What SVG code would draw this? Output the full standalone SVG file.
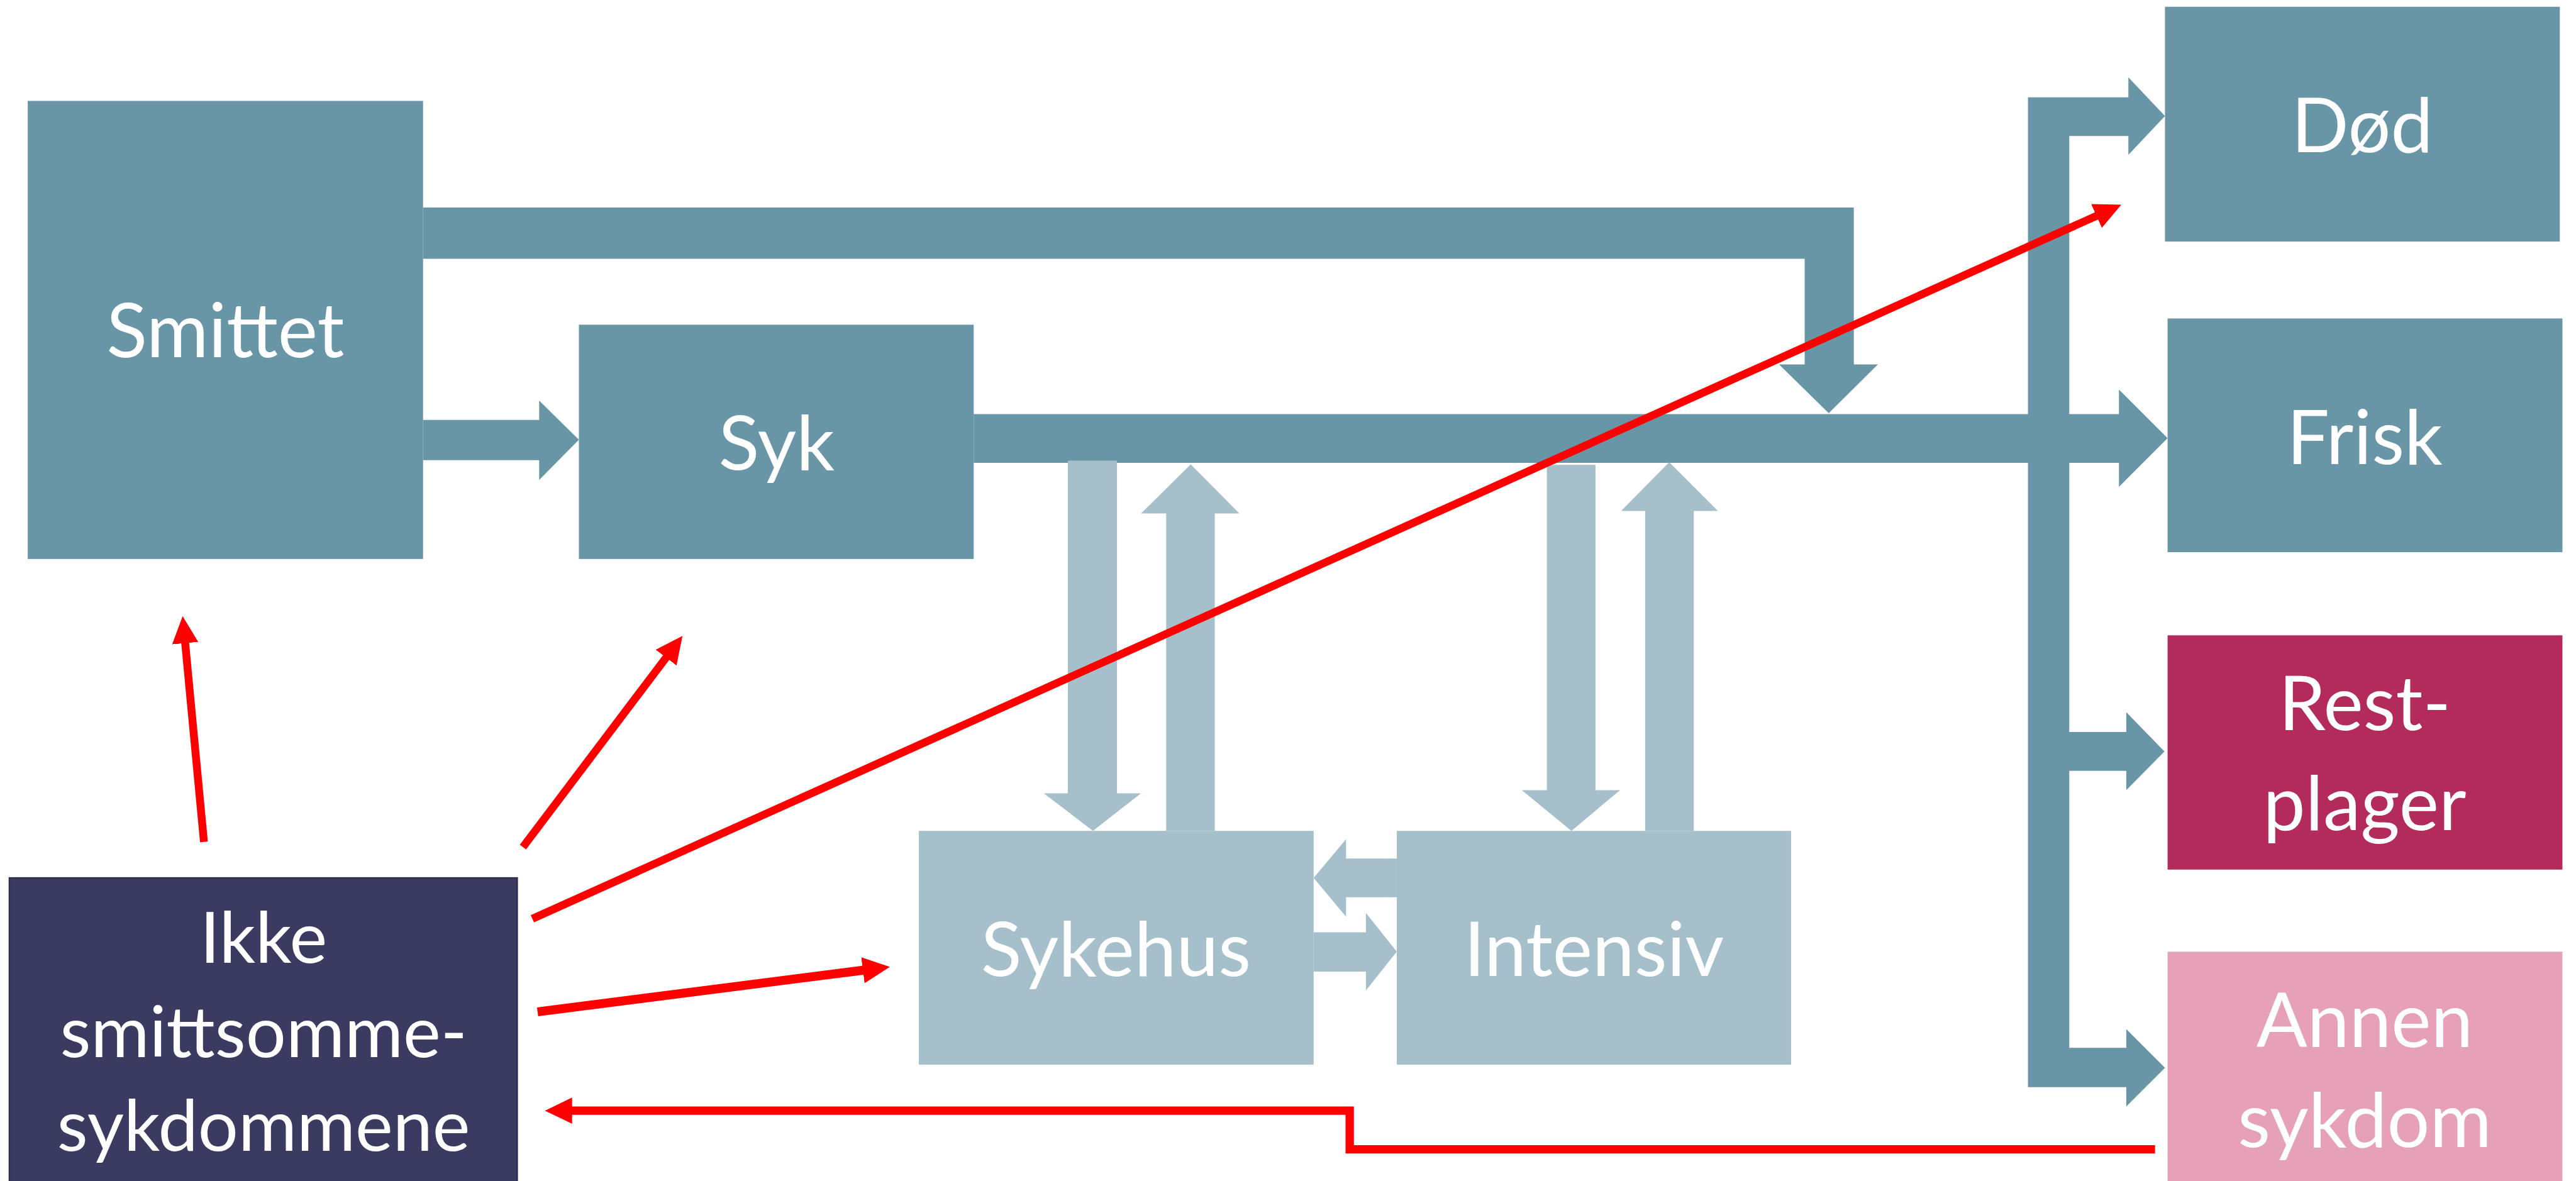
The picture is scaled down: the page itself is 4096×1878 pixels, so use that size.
<svg xmlns="http://www.w3.org/2000/svg" width="4096" height="1878" viewBox="0 0 4096 1878">
  <style>
    .teal { fill: #6896A6; }
    .light { fill: #A5C0CB; }
    .rest { fill: #B32B5A; }
    .annen { fill: #E6A1B8; }
    .navy { fill: #3B3B61; stroke: #2E2E4E; stroke-width: 3; }
    .label { font-family: "Lato", "Liberation Sans", sans-serif; font-weight: 400; font-size: 144px; fill: #FFFFFF; text-anchor: middle; }
    .small { font-size: 136px; }
    .flow { fill: none; stroke: #FF0000; stroke-width: 15; marker-end: url(#redHead); }
  </style>
  <defs>
    <marker id="redHead" markerUnits="userSpaceOnUse" markerWidth="52" markerHeight="50" viewBox="0 0 52 50" refX="12" refY="25" orient="auto">
      <path d="M0,0 L52,25 L0,50 Z" fill="#FF0000"/>
    </marker>
  </defs>
  <rect width="4096" height="1878" fill="#FFFFFF"/>
  <g transform="scale(0.83151)">
    <!-- boxes -->
    <g id="smittet">
      <rect class="teal" x="53" y="193" width="756" height="876"/>
      <text class="label" x="431" y="683">Smittet</text>
    </g>
    <g id="syk">
      <rect class="teal" x="1107" y="621" width="755" height="448"/>
      <text class="label" x="1485" y="898">Syk</text>
    </g>
    <g id="dod">
      <rect class="teal" x="4140" y="13" width="755" height="449"/>
      <text class="label" x="4517" y="291">Død</text>
    </g>
    <g id="frisk">
      <rect class="teal" x="4145" y="609" width="755" height="447"/>
      <text class="label" x="4522" y="887">Frisk</text>
    </g>
    <g id="restplager">
      <rect class="rest" x="4145" y="1215" width="755" height="448"/>
      <text class="label" x="4522" y="1396">Rest-</text>
      <text class="label" x="4522" y="1588">plager</text>
    </g>
    <g id="annen-sykdom">
      <rect class="annen" x="4145" y="1820" width="755" height="439"/>
      <text class="label" x="4522" y="2002">Annen</text>
      <text class="label" x="4522" y="2193">sykdom</text>
    </g>
    <g id="sykehus">
      <rect class="light" x="1757" y="1589" width="755" height="447"/>
      <text class="label" x="2134" y="1866">Sykehus</text>
    </g>
    <g id="intensiv">
      <rect class="light" x="2671" y="1589" width="754" height="447"/>
      <text class="label" x="3048" y="1866">Intensiv</text>
    </g>
    <g id="ikke-smittsomme">
      <rect class="navy" x="18" y="1679" width="971" height="590"/>
      <text class="label small" x="504" y="1841">Ikke</text>
      <text class="label small" x="504" y="2022">smittsomme-</text>
      <text class="label small" x="504" y="2201">sykdommene</text>
    </g>

    <!-- connectors -->
    <g id="connectors">
      <!-- block arrows between the disease stages -->
      <path class="teal" d="M809,397 H3545 V697 H3591 L3497,790 L3402,697 H3451 V495 H809 Z"/>
      <path class="teal" d="M809,803 H1031 V766 L1107,841 L1031,918 V880 H809 Z"/>
      <path class="teal" d="M1862,792 H4052 V745 L4145,838 L4052,931 V885 H1862 Z"/>
      <path class="teal" d="M3878,186 H4070 V148 L4140,222 L4070,296 V260 H3957 V2004 H4066 V1968 L4140,2042 L4066,2116 V2079 H3878 Z"/>
      <path class="teal" d="M3940,1400 H4066 V1362 L4139,1437 L4066,1511 V1474 H3940 Z"/>

      <path class="light" d="M2042,881 H2136 V1517 H2182 L2090,1589 L1996,1517 H2042 Z"/>
      <path class="light" d="M2230,1589 V982 H2182 L2277,888 L2370,982 H2323 V1589 Z"/>
      <path class="light" d="M2958,889 H3051 V1511 H3098 L3005,1589 L2910,1511 H2958 Z"/>
      <path class="light" d="M3146,1589 V977 H3100 L3192,884 L3285,977 H3239 V1589 Z"/>
      <path class="light" d="M2671,1642 H2574 V1605 L2512,1679 L2574,1753 V1716 H2671 Z"/>
      <path class="light" d="M2512,1783 H2612 V1746 L2671,1820 L2612,1894 V1858 H2512 Z"/>

      <!-- red influence arrows -->
      <path class="flow" d="M390,1610 L353,1218"/>
      <path class="flow" d="M1000,1620 L1281,1248"/>
      <path class="flow" d="M1018,1757 L4020,408"/>
      <path class="flow" style="stroke-width:17" d="M1028,1935 L1662,1854"/>
      <path class="flow" style="stroke-width:16" d="M4121,2198 H2581 V2124 H1082"/>
    </g>
  </g>
</svg>
